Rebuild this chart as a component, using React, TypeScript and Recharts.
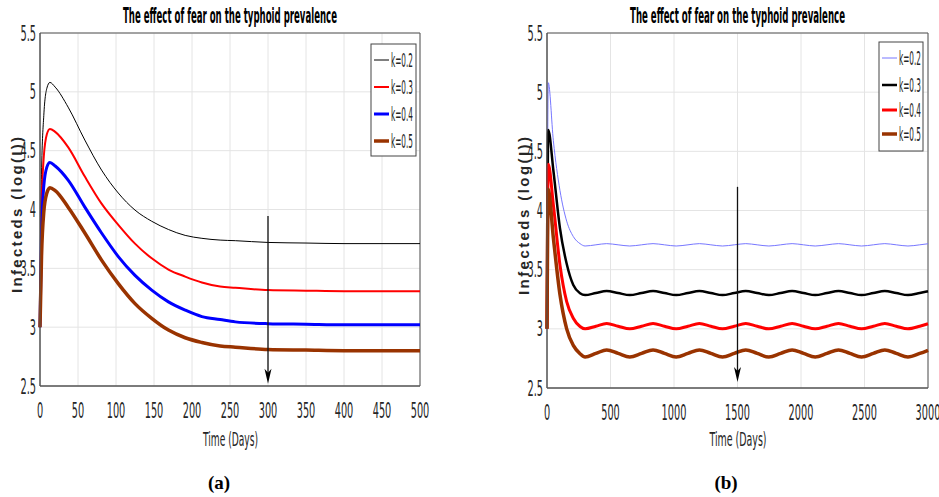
import React from "react";
import {
  CartesianGrid,
  Line,
  LineChart,
  ReferenceArea,
  ReferenceDot,
  ReferenceLine,
  XAxis,
  YAxis,
} from "recharts";

const seriesNames = ["k=0.2", "k=0.3", "k=0.4", "k=0.5"];
const yTicks = [2.5, 3, 3.5, 4, 4.5, 5, 5.5];
const leftXTicks = [0, 50, 100, 150, 200, 250, 300, 350, 400, 450, 500];
const rightXTicks = [0, 500, 1000, 1500, 2000, 2500, 3000];

// (a) 0..500 days
const leftDays = [0, 2, 5, 9, 13, 20, 37, 59, 81, 103, 125, 147, 169, 191, 213, 237, 257, 300, 350, 400, 450, 500];
const leftK02 = [3.0, 4.3, 4.8, 5.03, 5.08, 5.04, 4.87, 4.59, 4.335, 4.14, 3.995, 3.9, 3.83, 3.78, 3.755, 3.74, 3.735, 3.72, 3.715, 3.71, 3.71, 3.71];
const leftK03 = [3.0, 4.0, 4.45, 4.64, 4.685, 4.66, 4.53, 4.28, 4.05, 3.87, 3.71, 3.585, 3.49, 3.43, 3.38, 3.345, 3.335, 3.315, 3.31, 3.306, 3.306, 3.306];
const leftK04 = [3.0, 3.8, 4.2, 4.36, 4.4, 4.37, 4.25, 4.02, 3.8, 3.6, 3.44, 3.315, 3.215, 3.145, 3.09, 3.065, 3.045, 3.03, 3.025, 3.02, 3.02, 3.02];
const leftK05 = [3.0, 3.6, 3.98, 4.14, 4.185, 4.16, 4.02, 3.8, 3.57, 3.37, 3.2, 3.075, 2.975, 2.91, 2.87, 2.84, 2.83, 2.81, 2.805, 2.8, 2.8, 2.8];

// (b) 0..3000 days
const rightDays = [0, 10, 50, 102, 155, 207, 260, 300, 385, 470, 560, 652, 745, 835, 925, 1017, 1110, 1200, 1290, 1382, 1475, 1565, 1655, 1747, 1840, 1930, 2020, 2112, 2205, 2295, 2385, 2477, 2570, 2660, 2750, 2842, 2935, 3000];
const rightK02 = [3.0, 5.08, 4.59, 4.17, 3.91, 3.78, 3.72, 3.7, 3.71, 3.72, 3.71, 3.7, 3.71, 3.72, 3.71, 3.7, 3.71, 3.72, 3.71, 3.7, 3.71, 3.72, 3.71, 3.7, 3.71, 3.72, 3.71, 3.7, 3.71, 3.72, 3.71, 3.7, 3.71, 3.72, 3.71, 3.7, 3.71, 3.719];
const rightK03 = [3.0, 4.68, 4.34, 3.85, 3.55, 3.37, 3.3, 3.285, 3.303, 3.32, 3.303, 3.285, 3.303, 3.32, 3.303, 3.285, 3.303, 3.32, 3.303, 3.285, 3.303, 3.32, 3.303, 3.285, 3.303, 3.32, 3.303, 3.285, 3.303, 3.32, 3.303, 3.285, 3.303, 3.32, 3.303, 3.285, 3.303, 3.318];
const rightK04 = [3.0, 4.39, 4.05, 3.54, 3.23, 3.09, 3.02, 3.0, 3.022, 3.045, 3.022, 3.0, 3.022, 3.045, 3.022, 3.0, 3.022, 3.045, 3.022, 3.0, 3.022, 3.045, 3.022, 3.0, 3.022, 3.045, 3.022, 3.0, 3.022, 3.045, 3.022, 3.0, 3.022, 3.045, 3.022, 3.0, 3.022, 3.043];
const rightK05 = [3.0, 4.18, 3.77, 3.29, 3.0, 2.86, 2.79, 2.762, 2.792, 2.822, 2.792, 2.762, 2.792, 2.822, 2.792, 2.762, 2.792, 2.822, 2.792, 2.762, 2.792, 2.822, 2.792, 2.762, 2.792, 2.822, 2.792, 2.762, 2.792, 2.822, 2.792, 2.762, 2.792, 2.822, 2.792, 2.762, 2.792, 2.819];

const leftData = leftDays.map((t, i) => ({ t, k02: leftK02[i], k03: leftK03[i], k04: leftK04[i], k05: leftK05[i] }));
const rightData = rightDays.map((t, i) => ({ t, k02: rightK02[i], k03: rightK03[i], k04: rightK04[i], k05: rightK05[i] }));

const keys = ["k02", "k03", "k04", "k05"];
const leftStyles = [
  { color: "#000000", width: 1 },
  { color: "#ff0000", width: 2 },
  { color: "#0000ff", width: 3 },
  { color: "#993300", width: 3.5 },
];
const rightStyles = [
  { color: "#7777ff", width: 1 },
  { color: "#000000", width: 2.5 },
  { color: "#ff0000", width: 3 },
  { color: "#993300", width: 3.5 },
];

const NARROW = "'Liberation Sans Narrow', 'DejaVu Sans Condensed', 'Arial Narrow', sans-serif";
const INK = "#262626";

function textWidth(s: string) {
  let w = 0;
  for (const c of s) w += c === "." ? 3.2 : 6.2;
  return w;
}

const XTick = (props: any) => {
  const s = String(props.payload.value);
  return (
    <text x={props.x} y={props.y + 32} textAnchor="middle" fontSize={21} fontFamily={NARROW} fill={INK} textLength={textWidth(s)} lengthAdjust="spacingAndGlyphs">
      {s}
    </text>
  );
};

const YTick = (props: any) => {
  const s = String(props.payload.value);
  return (
    <text x={props.x} y={props.y + 7.5} textAnchor="end" fontSize={21} fontFamily={NARROW} fill={INK} textLength={textWidth(s)} lengthAdjust="spacingAndGlyphs">
      {s}
    </text>
  );
};

const ArrowHead = (props: any) => {
  const { cx, cy } = props;
  return <path d={`M${cx},${cy} L${cx - 3.5},${cy - 15} L${cx},${cy - 11} L${cx + 3.5},${cy - 15} Z`} fill="#000" />;
};

function Panel(props: {
  data: any[];
  styles: { color: string; width: number }[];
  xTicks: number[];
  xMax: number;
  arrowX: number;
  arrowTop: number;
  arrowTip: number;
  width: number;
  height: number;
  marginLeft: number;
  marginRight: number;
}) {
  const { data, styles, xTicks, xMax, arrowX, arrowTop, arrowTip } = props;
  return (
    <LineChart
      width={props.width}
      height={props.height}
      data={data}
      margin={{ top: 33, right: props.marginRight, bottom: 54, left: props.marginLeft }}
    >
      <CartesianGrid stroke="#e4e4e4" />
      <XAxis
        dataKey="t"
        type="number"
        domain={[0, xMax]}
        ticks={xTicks}
        height={30}
        tickSize={0}
        tickMargin={0}
        tick={<XTick />}
        axisLine={{ stroke: "#555" }}
        tickLine={false}
        interval={0}
      />
      <YAxis
        type="number"
        domain={[2.5, 5.5]}
        ticks={yTicks}
        width={40}
        tickSize={0}
        tickMargin={4}
        tick={<YTick />}
        axisLine={{ stroke: "#555" }}
        tickLine={false}
        interval={0}
      />
      <ReferenceArea x1={0} x2={xMax} y1={2.5} y2={5.5} fill="none" stroke="#555" strokeWidth={1} />
      {keys.map((k, i) => (
        <Line
          key={k}
          dataKey={k}
          name={seriesNames[i]}
          type="monotone"
          stroke={styles[i].color}
          strokeWidth={styles[i].width}
          dot={false}
          isAnimationActive={false}
        />
      ))}
      <ReferenceLine
        segment={[
          { x: arrowX, y: arrowTop },
          { x: arrowX, y: arrowTip + 0.05 },
        ]}
        stroke="#111"
        strokeWidth={1.3}
      />
      <ReferenceDot x={arrowX} y={arrowTip} r={0} shape={<ArrowHead />} />
    </LineChart>
  );
}

function LegendBox(props: { x: number; y: number; w: number; h: number; rows: number[]; styles: { color: string; width: number }[] }) {
  const { x, y, w, h, rows, styles } = props;
  return (
    <g>
      <rect x={x} y={y} width={w} height={h} fill="#fff" stroke="#444" strokeWidth={1} />
      {rows.map((ry, i) => (
        <g key={i}>
          <line x1={x + 3} x2={x + 18} y1={ry} y2={ry} stroke={styles[i].color} strokeWidth={Math.max(styles[i].width, 1)} />
          <text x={x + 20} y={ry + 7} fontSize={19} fontFamily={NARROW} fill={INK} textLength={22} lengthAdjust="spacingAndGlyphs">
            {seriesNames[i]}
          </text>
        </g>
      ))}
    </g>
  );
}

export default function App() {
  const title = "The effect of fear on the typhoid prevalence";
  return (
    <div style={{ position: "absolute", left: 0, top: 0, width: 939, height: 497, background: "#fff", overflow: "hidden" }}>
      <div style={{ position: "absolute", left: 0, top: 0 }}>
        <Panel
          data={leftData}
          styles={leftStyles}
          xTicks={leftXTicks}
          xMax={500}
          arrowX={300}
          arrowTop={3.944}
          arrowTip={2.52}
          width={470}
          height={470}
          marginLeft={0}
          marginRight={50}
        />
      </div>
      <div style={{ position: "absolute", left: 0, top: 0 }}>
        <Panel
          data={rightData}
          styles={rightStyles}
          xTicks={rightXTicks}
          xMax={3000}
          arrowX={1500}
          arrowTop={4.2}
          arrowTip={2.55}
          width={939}
          height={472}
          marginLeft={507}
          marginRight={11}
        />
      </div>
      <svg width={939} height={497} style={{ position: "absolute", left: 0, top: 0, pointerEvents: "none" }}>
        <text x={230} y={23} textAnchor="middle" fontSize={21} fontWeight="bold" fontFamily={NARROW} fill="#000" textLength={214} lengthAdjust="spacingAndGlyphs">
          {title}
        </text>
        <text x={737.5} y={23} textAnchor="middle" fontSize={21} fontWeight="bold" fontFamily={NARROW} fill="#000" textLength={215} lengthAdjust="spacingAndGlyphs">
          {title}
        </text>
        <text transform="translate(22,215) rotate(-90)" textAnchor="middle" fontSize={15} fontWeight="bold" fontFamily="'Liberation Sans', Arial, sans-serif" fill={INK} textLength={156} lengthAdjust="spacing">
          Infecteds (log(I))
        </text>
        <text transform="translate(529,216) rotate(-90)" textAnchor="middle" fontSize={15} fontWeight="bold" fontFamily="'Liberation Sans', Arial, sans-serif" fill={INK} textLength={158} lengthAdjust="spacing">
          Infecteds (log(I))
        </text>
        <text x={230.5} y={446} textAnchor="middle" fontSize={19} fontFamily={NARROW} fill={INK} textLength={55} lengthAdjust="spacingAndGlyphs">
          Time (Days)
        </text>
        <text x={738} y={446} textAnchor="middle" fontSize={19} fontFamily={NARROW} fill={INK} textLength={57} lengthAdjust="spacingAndGlyphs">
          Time (Days)
        </text>
        <text x={219} y={489} textAnchor="middle" fontSize={19} fontWeight="bold" fontFamily="'Liberation Serif', 'Times New Roman', serif" fill="#000">
          (a)
        </text>
        <text x={726} y={489} textAnchor="middle" fontSize={19} fontWeight="bold" fontFamily="'Liberation Serif', 'Times New Roman', serif" fill="#000">
          (b)
        </text>
        <LegendBox x={371} y={44} w={45} h={112} rows={[60, 87, 114, 141]} styles={leftStyles} />
        <LegendBox x={879} y={42} w={44} h={109} rows={[58, 85, 110, 134]} styles={rightStyles} />
      </svg>
    </div>
  );
}
